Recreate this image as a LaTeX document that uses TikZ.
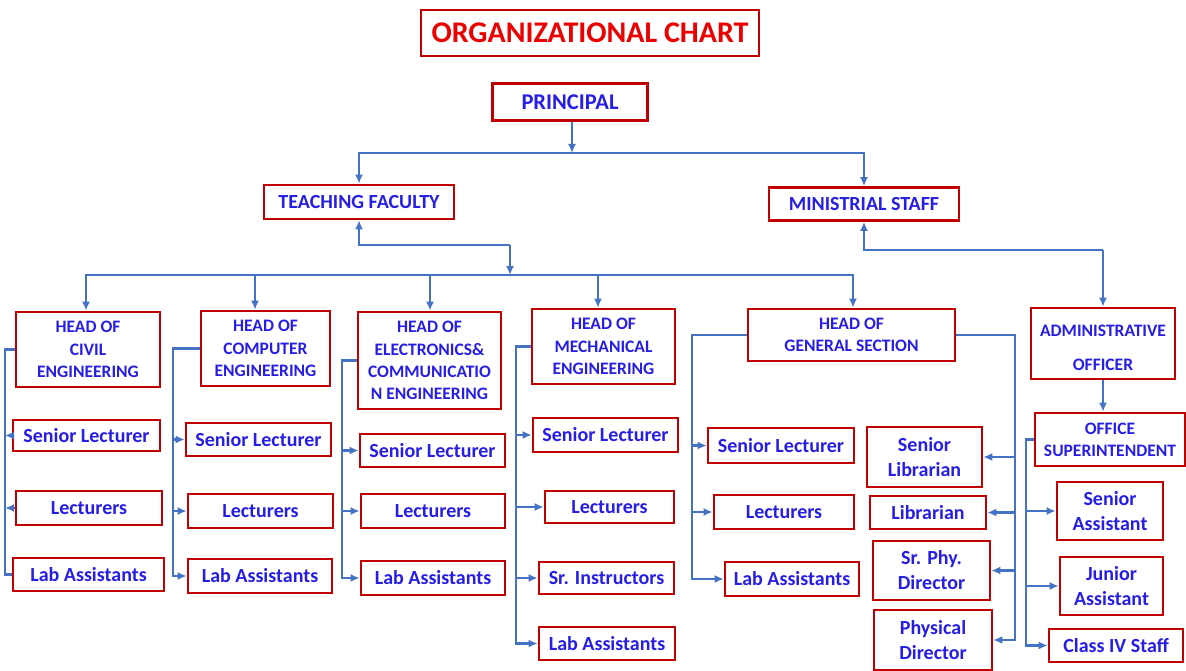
\documentclass[tikz,border=0pt]{standalone}
\usepackage{fontspec}
\setmainfont{Carlito}
\usetikzlibrary{arrows.meta}
\definecolor{chartred}{RGB}{192,0,0}
\definecolor{titlered}{RGB}{235,0,0}
\definecolor{chartblue}{RGB}{38,30,230}
\definecolor{linkblue}{RGB}{68,114,196}
\tikzset{
  box/.style      = {draw=chartred, line width=2.7pt, fill=white, text=chartblue,
                     align=center, inner sep=0pt, font=\bfseries\fontsize{20}{25}\selectfont},
  headbox/.style  = {box, font=\bfseries\fontsize{17.5}{22.3}\selectfont},
  size/.style 2 args = {minimum width=#1, minimum height=#2},
  link/.style     = {draw=linkblue, line width=2.9pt},
  arr/.style      = {link, -{Latex[length=9pt,width=8pt]}}
}

\begin{document}
\begin{tikzpicture}[x=1pt, y=-1pt]
  \useasboundingbox (0,0) rectangle (1186,671);

  % Title and top levels
  \node[box, size={338}{46}, text=titlered, font=\bfseries\fontsize{30}{32}\selectfont]
    (title) at (590,33) {ORGANIZATIONAL CHART};
  \node[box, size={155}{37}, font=\bfseries\fontsize{22.5}{24}\selectfont] (principal) at (570,102) {PRINCIPAL};
  \node[box, size={190}{34}] (teach) at (359,202) {TEACHING FACULTY};
  \node[box, size={190}{33}] (mini) at (864,204) {MINISTRIAL STAFF};

  % Heads of sections
  \node[headbox, size={144}{75}] (civil) at (88,349.5) {HEAD OF\\CIVIL\\ENGINEERING};
  \node[headbox, size={129}{75}] (comp) at (265.5,348.5) {HEAD OF\\COMPUTER\\ENGINEERING};
  \node[headbox, size={143}{97}] (ece) at (429.5,360.5) {HEAD OF\\ELECTRONICS\&\\COMMUNICATIO\\N ENGINEERING};
  \node[headbox, size={143}{75}] (mech) at (603.5,346.5) {HEAD OF\\MECHANICAL\\ENGINEERING};
  \node[headbox, size={207}{52}] (gen) at (851.5,335) {HEAD OF\\GENERAL SECTION};
  \node[headbox, size={144}{71}] (admin) at (1103,343.5) {\rule{0pt}{20pt}ADMINISTRATIVE\\[12pt]OFFICER};
  \node[headbox, size={150}{53}] (os) at (1110,439.5) {OFFICE\\SUPERINTENDENT};

  % Civil
  \node[box, size={147}{31}] (csl) at (86.5,435.5) {Senior Lecturer};
  \node[box, size={146}{34}] (clec) at (89,508) {Lecturers};
  \node[box, size={151}{33}] (clab) at (88.5,574.5) {Lab Assistants};
  % Computer
  \node[box, size={145}{33}] (psl) at (258.5,439.5) {Senior Lecturer};
  \node[box, size={145}{34}] (plec) at (260.5,511) {Lecturers};
  \node[box, size={144}{34}] (plab) at (260,576) {Lab Assistants};
  % Electronics & communication
  \node[box, size={145}{33}] (esl) at (432.5,450.5) {Senior Lecturer};
  \node[box, size={144}{34}] (elec) at (433,511) {Lecturers};
  \node[box, size={144}{34}] (elab) at (433,578) {Lab Assistants};
  % Mechanical
  \node[box, size={145}{34}] (msl) at (605.5,435) {Senior Lecturer};
  \node[box, size={129}{32}] (mlec) at (609.5,507) {Lecturers};
  \node[box, size={135}{32}] (mins) at (606.5,578) {Sr. Instructors};
  \node[box, size={136}{33}] (mlab) at (607,643.5) {Lab Assistants};
  % General section
  \node[box, size={146}{35}] (gsl) at (781,445.5) {Senior Lecturer};
  \node[box, size={140}{34}] (glec) at (784,512) {Lecturers};
  \node[box, size={134}{34}] (glab) at (792,579) {Lab Assistants};
  \node[box, size={115}{60}] (slib) at (924.5,457) {Senior\\Librarian};
  \node[box, size={116}{33}] (lib) at (928,512.5) {Librarian};
  \node[box, size={117}{59}] (sphy) at (931.5,570.5) {Sr. Phy.\\Director};
  \node[box, size={118}{60}] (phys) at (933,640) {Physical\\Director};
  % Office
  \node[box, size={106}{58}] (sas) at (1110,511) {Senior\\Assistant};
  \node[box, size={103}{58}] (jas) at (1111.5,586) {Junior\\Assistant};
  \node[box, size={134}{33}] (c4) at (1116,645.5) {Class IV Staff};

  % Principal to faculty and staff
  \coordinate (bus1) at (572,153);
  \draw[arr] (principal.south -| bus1) -- (bus1);
  \draw[arr] (bus1) -| (teach.north);
  \draw[arr] (bus1) -| (mini.north);

  % Teaching faculty to heads
  \coordinate (tfj) at (510,245);
  \coordinate (bus2) at (510,275);
  \draw[arr] (tfj) -| (teach.south);
  \draw[arr] (tfj) -- (bus2);
  \foreach \h/\hx in {civil/86, comp/255, ece/430, mech/598, gen/853}{
    \draw[arr] (bus2) -| (\hx,0 |- \h.north);
  }

  % Ministrial staff to office
  \coordinate (msj) at (1103,250);
  \draw[arr] (msj) -| (mini.south);
  \draw[arr] (msj) -- (admin.north);
  \draw[arr] (admin.south) -- (admin.south |- os.north);

  % Civil branch
  \coordinate (cs) at (5,0);
  \draw[link] (civil.west) -| (cs |- clab.west) -- (clab.west);
  \foreach \n in {csl,clec}{
    \draw[arr] (\n.west) -- (cs |- \n.west);
  }

  % Computer branch
  \coordinate (ps) at (173,0);
  \draw[arr] (comp.west) -| (ps |- plab.west) -- (plab.west);
  \foreach \n in {psl,plec}{
    \draw[arr] (ps |- \n.west) -- (\n.west);
  }

  % Electronics branch
  \coordinate (es) at (342,0);
  \draw[arr] (ece.west) -| (es |- elab.west) -- (elab.west);
  \foreach \n in {esl,elec}{
    \draw[arr] (es |- \n.west) -- (\n.west);
  }

  % Mechanical branch
  \coordinate (ms) at (516,0);
  \draw[arr] (mech.west) -| (ms |- mlab.west) -- (mlab.west);
  \foreach \n in {msl,mlec,mins}{
    \draw[arr] (ms |- \n.west) -- (\n.west);
  }

  % General section, left and right
  \coordinate (gl) at (692,0);
  \draw[arr] (gen.west) -| (gl |- glab.west) -- (glab.west);
  \foreach \n in {gsl,glec}{
    \draw[arr] (gl |- \n.west) -- (\n.west);
  }
  \coordinate (gr) at (1015,0);
  \draw[arr] (gen.east) -| (gr |- phys.east) -- (phys.east);
  \foreach \n in {slib,lib,sphy}{
    \draw[arr] (gr |- \n.east) -- (\n.east);
  }

  % Office superintendent branch
  \coordinate (ob) at (1026,0);
  \draw[arr] (os.west) -| (ob |- c4.west) -- (c4.west);
  \foreach \n in {sas,jas}{
    \draw[arr] (ob |- \n.west) -- (\n.west);
  }
\end{tikzpicture}
\end{document}
